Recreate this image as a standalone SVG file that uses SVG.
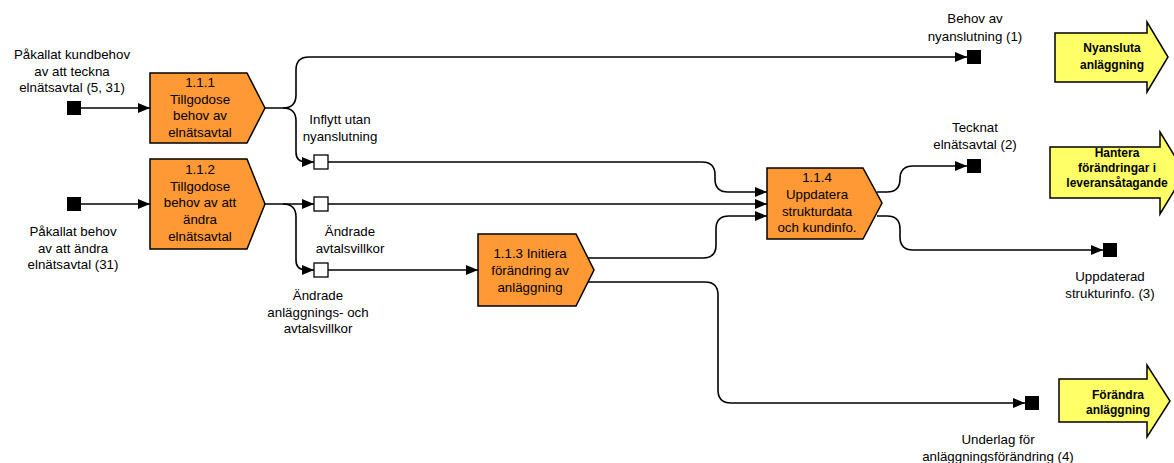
<svg xmlns="http://www.w3.org/2000/svg" width="1174" height="463" viewBox="0 0 1174 463">
<style>
text{font-family:"Liberation Sans",Arial,sans-serif;font-size:13.3px;fill:#000;text-anchor:middle}
.b{font-weight:bold;font-size:12px}
.proc{fill:#FF9933;stroke:#000;stroke-width:1.5}
.ext{fill:#FFFF66;stroke:#000;stroke-width:1.5}
.c{fill:none;stroke:#000;stroke-width:1.6}
.blk{fill:#000}
.wht{fill:#fff;stroke:#000;stroke-width:1.3}
</style>
<defs>
<marker id="ah" viewBox="0 0 12 10" refX="12" refY="5" markerWidth="12" markerHeight="10" markerUnits="userSpaceOnUse" orient="auto">
<path d="M0,0 L12,5 L0,10 z" fill="#000"/>
</marker>
</defs>
<rect width="1174" height="463" fill="#fff"/>
<g id="connectors">
<path class="c" marker-end="url(#ah)" d="M81,108 H150"/>
<path class="c" marker-end="url(#ah)" d="M81,204 H150"/>
<path class="c" marker-end="url(#ah)" d="M265,108 H283 Q296,108 296,95 V70 Q296,57 309,57 H967"/>
<path class="c" marker-end="url(#ah)" d="M283,108 Q296,108 296,121 V152 Q296,162 306,162 H314"/>
<path class="c" marker-end="url(#ah)" d="M265,204 H314"/>
<path class="c" marker-end="url(#ah)" d="M283,204 Q296,204 296,217 V260 Q296,270 306,270 H314"/>
<path class="c" marker-end="url(#ah)" d="M328,162 H702 Q715,162 715,175 V179 Q715,192 728,192 H767"/>
<path class="c" marker-end="url(#ah)" d="M328,204 H767"/>
<path class="c" marker-end="url(#ah)" d="M328,270 H478"/>
<path class="c" marker-end="url(#ah)" d="M588,258 H703 Q716,258 716,245 V229 Q716,216 729,216 H767"/>
<path class="c" marker-end="url(#ah)" d="M587,282 H705 Q718,282 718,295 V390 Q718,403 731,403 H1025"/>
<path class="c" marker-end="url(#ah)" d="M877,192 H887 Q900,192 900,179 Q900,166 913,166 H967"/>
<path class="c" marker-end="url(#ah)" d="M877,216 H887 Q900,216 900,229 V237 Q900,250 913,250 H1103"/>
</g>
<g id="in1">
<rect class="blk" x="67" y="101" width="14" height="14"/>
<text x="72" y="59">Påkallat kundbehov</text>
<text x="72" y="75.5">av att teckna</text>
<text x="72" y="92">elnätsavtal (5, 31)</text>
</g>
<g id="in2">
<rect class="blk" x="67" y="197" width="14" height="14"/>
<text x="73" y="236">Påkallat behov</text>
<text x="73" y="252.5">av att ändra</text>
<text x="73" y="269">elnätsavtal (31)</text>
</g>
<g id="p111">
<polygon class="proc" points="150,73 247,73 265,108 247,143 150,143"/>
<text x="200" y="87">1.1.1</text>
<text x="200" y="104">Tillgodose</text>
<text x="200" y="120">behov av</text>
<text x="200" y="136.5">elnätsavtal</text>
</g>
<g id="p112">
<polygon class="proc" points="150,159 247,159 265,204 247,249 150,249"/>
<text x="200" y="174">1.1.2</text>
<text x="200" y="190.5">Tillgodose</text>
<text x="200" y="207">behov av att</text>
<text x="200" y="224">ändra</text>
<text x="200" y="240.5">elnätsavtal</text>
</g>
<g id="p113">
<polygon class="proc" points="478,234 576,234 594,270 576,306 478,306"/>
<text x="530" y="258">1.1.3 Initiera</text>
<text x="530" y="275">förändring av</text>
<text x="530" y="292">anläggning</text>
</g>
<g id="p114">
<polygon class="proc" points="767,168 863,168 882,203 863,239 767,239"/>
<text x="817" y="182">1.1.4</text>
<text x="817" y="199">Uppdatera</text>
<text x="817" y="216">strukturdata</text>
<text x="817" y="232">och kundinfo.</text>
</g>
<g id="mid1">
<rect class="wht" x="314" y="155" width="14" height="14"/>
<text x="340" y="124">Inflytt utan</text>
<text x="340" y="141">nyanslutning</text>
</g>
<g id="mid2">
<rect class="wht" x="314" y="197" width="14" height="14"/>
<text x="350" y="236">Ändrade</text>
<text x="350" y="253">avtalsvillkor</text>
</g>
<g id="mid3">
<rect class="wht" x="314" y="263" width="14" height="14"/>
<text x="318" y="300">Ändrade</text>
<text x="318" y="317">anläggnings- och</text>
<text x="318" y="333">avtalsvillkor</text>
</g>
<g id="out1">
<rect class="blk" x="967" y="50" width="14" height="14"/>
<text x="975" y="23">Behov av</text>
<text x="975" y="41">nyanslutning (1)</text>
</g>
<g id="out2">
<rect class="blk" x="967" y="159" width="14" height="14"/>
<text x="975" y="132">Tecknat</text>
<text x="975" y="149">elnätsavtal (2)</text>
</g>
<g id="out3">
<rect class="blk" x="1103" y="243" width="14" height="14"/>
<text x="1110" y="281">Uppdaterad</text>
<text x="1110" y="298">strukturinfo. (3)</text>
</g>
<g id="out4">
<rect class="blk" x="1025" y="396" width="14" height="14"/>
<text x="998" y="444">Underlag för</text>
<text x="998" y="461">anläggningsförändring (4)</text>
</g>
<g id="ext1">
<polygon class="ext" points="1055,33 1147,33 1147,22 1168,57 1147,92 1147,82 1055,82"/>
<text class="b" x="1112" y="52">Nyansluta</text>
<text class="b" x="1112" y="69">anläggning</text>
</g>
<g id="ext2">
<polygon class="ext" points="1050,147 1160,147 1160,132 1185,173 1160,214 1160,198 1050,198"/>
<text class="b" x="1117" y="157">Hantera</text>
<text class="b" x="1117" y="172">förändringar i</text>
<text class="b" x="1117" y="187">leveransåtagande</text>
</g>
<g id="ext3">
<polygon class="ext" points="1059,379 1147,379 1147,365 1170,401 1147,437 1147,422 1059,422"/>
<text class="b" x="1118" y="399">Förändra</text>
<text class="b" x="1118" y="414">anläggning</text>
</g>
</svg>
